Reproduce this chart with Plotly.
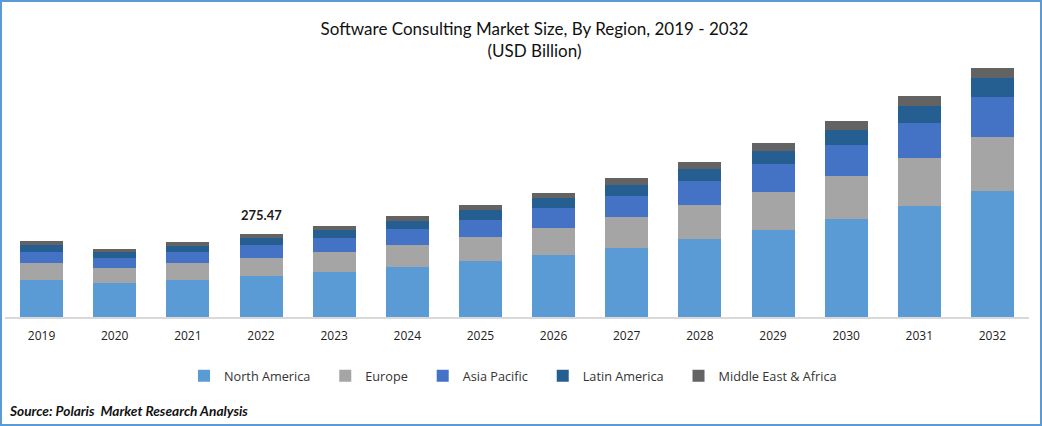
import plotly.graph_objects as go

# USD billion (2022 total is the labelled 275.47)
years = ["2019", "2020", "2021", "2022", "2023", "2024", "2025", "2026", "2027", "2028", "2029", "2030", "2031", "2032"]
north_america = [122.8, 112.8, 122.8, 136.1, 149.4, 166.0, 185.9, 205.8, 229.0, 258.9, 288.8, 325.3, 368.4, 418.2]
europe = [56.4, 49.8, 56.4, 59.7, 66.4, 73.0, 79.7, 89.6, 102.9, 112.8, 126.1, 142.7, 159.3, 179.2]
asia_pacific = [36.5, 33.2, 36.5, 43.2, 46.5, 53.1, 56.4, 66.4, 69.7, 79.7, 92.9, 102.9, 116.2, 132.8]
latin_america = [23.2, 19.9, 19.9, 23.2, 26.6, 26.6, 33.2, 33.2, 36.5, 39.8, 43.2, 49.8, 56.4, 63.1]
middle_east = [13.3, 10.0, 13.3, 13.27, 13.3, 16.6, 16.6, 16.6, 23.2, 23.2, 26.6, 29.9, 33.2, 33.2]

regions = ["North America", "Europe", "Asia Pacific", "Latin America", "Middle East & Africa"]
values = [north_america, europe, asia_pacific, latin_america, middle_east]
colors = ["#5B9BD5", "#A5A5A5", "#4472C4", "#255E91", "#636363"]

W, H = 1042, 426
L, R, T, B = 5, 13, 60, 109
plot_w = W - L - R
plot_h = H - T - B

fig = go.Figure()
for name, vals, col in zip(regions, values, colors):
    # trailing nbsp widens the legend spacing, plotly has no gap setting for this
    pad = "" if name == regions[-1] else "\u00a0\u00a0\u00a0"
    fig.add_trace(go.Bar(x=years, y=vals, name=name + pad, marker=dict(color=col, line_width=0)))

label_idx = years.index("2022")
total_2022 = sum(v[label_idx] for v in values)
fig.add_annotation(x=label_idx, y=total_2022, yanchor="bottom", yshift=9, showarrow=False,
                   text="<b>%.2f</b>" % total_2022, font=dict(family="Lato", size=13, color="#1a1a1a"))
fig.add_annotation(xref="paper", yref="paper", x=(7 - L) / plot_w, y=(H - B - 410) / plot_h, xanchor="left", yanchor="middle",
                   showarrow=False, text="<b><i>Source: Polaris  Market Research Analysis</i></b>",
                   font=dict(family="Lato", size=13.7, color="#111111"))

# blue frame round the whole picture
fig.add_shape(type="rect", xref="paper", yref="paper", x0=(1 - L) / plot_w, x1=(W - 1 - L) / plot_w,
              y0=(H - B - (H - 1)) / plot_h, y1=(H - B - 1) / plot_h, line=dict(color="#5B9BD5", width=2), layer="above")

fig.update_layout(
    width=W, height=H, margin=dict(l=L, r=R, t=T, b=B), barmode="stack", bargap=0.412,
    paper_bgcolor="white", plot_bgcolor="white", font=dict(family="Open Sans", size=12, color="#222222"),
    title=dict(text="Software Consulting Market Size, By Region, 2019 - 2032<br>(USD Billion)",
               x=(534.5) / W, xanchor="center", y=1 - 34.5 / H, yanchor="middle",
               font=dict(family="Lato", size=17, color="#111111")),
    legend=dict(orientation="h", x=(513 - L) / plot_w, xanchor="center", y=(H - B - 376) / plot_h, yanchor="middle",
                traceorder="normal", font=dict(family="Open Sans", size=12.7, color="#333333"), bgcolor="rgba(0,0,0,0)"),
)
fig.update_xaxes(type="category", range=[-0.5, 13.5], showline=True, linecolor="#D9D9D9", linewidth=1.5,
                 ticks="outside", ticklen=7, tickcolor="rgba(0,0,0,0)", showgrid=False,
                 tickfont=dict(family="Open Sans", size=12, color="#222222"))
fig.update_yaxes(range=[0, plot_h * 275.47 / 83], visible=False, showgrid=False)

# browser's default body margin would push the figure 8px in
fig.write_html("out.html", config={"displayModeBar": False}, post_script="document.body.style.margin='0';")
